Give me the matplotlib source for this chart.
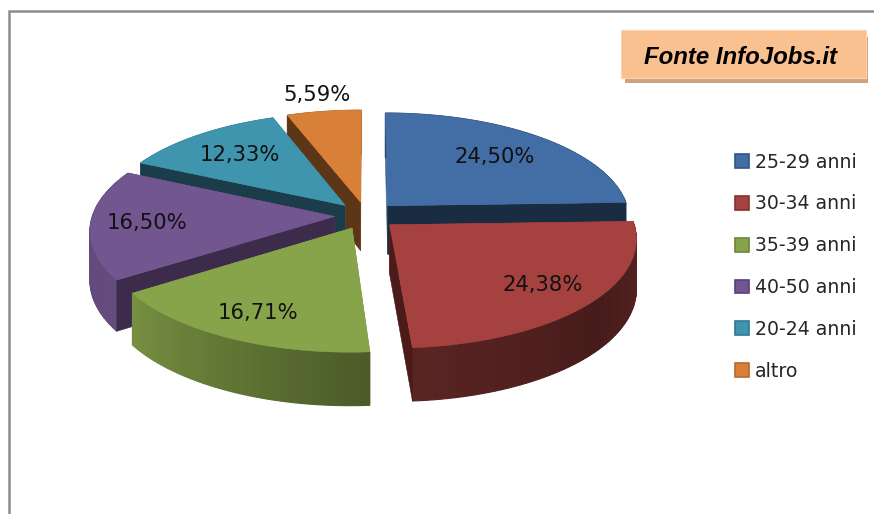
import numpy as np
import matplotlib
matplotlib.use("Agg")
import matplotlib.pyplot as plt
from matplotlib.patches import Patch, Rectangle

categories = ["25-29 anni", "30-34 anni", "35-39 anni", "40-50 anni", "20-24 anni", "altro"]
values = [24.50, 24.38, 16.71, 16.50, 12.33, 5.59]
labels = ["24,50%", "24,38%", "16,71%", "16,50%", "12,33%", "5,59%"]
colors = ["#426ea5", "#a5423f", "#87a44a", "#71568f", "#3f95ae", "#d88038"]
cut_colors = ["#1a2c42", "#4a1b19", "#4a5a25", "#3c2b4a", "#1a3d49", "#5c3616"]
edge_colors = ["#2f5587", "#8a2f2c", "#6c8638", "#59407a", "#2b7a92", "#b8682a"]
label_radius = [0.69, 0.78, 0.79, 0.77, 0.70, 1.21]

# pie geometry, in pixels of the figure
cx, cy = 366, 215.5
rx, ry = 242, 106
persp = 0.12
explode = 0.13


def project(u, v, down=False):
    scale = 1 / (1 + persp * v)
    x = cx + rx * u * scale
    y = cy - ry * v * scale
    if down:
        y = y + 49 - 4 * v
    return x, y


def blend(col, f):
    rgb = np.array(matplotlib.colors.to_rgb(col))
    return tuple(rgb * f)


def rim_shade(deg):
    return np.interp(deg, [0, 90, 130, 176, 236, 300, 360],
                     [0.6, 0.55, 0.42, 0.55, 0.88, 0.85, 0.8])


fig = plt.figure(figsize=(8.74, 5.14), dpi=100)
ax = fig.add_axes([0, 0, 1, 1])
ax.set_xlim(0, 874)
ax.set_ylim(514, 0)
ax.axis("off")

# grey frame, cut by the image on the right and at the bottom
ax.plot([9, 9, 874], [514, 11, 11], color="#8c8c8c", lw=1.8, solid_joinstyle="miter")

pct = np.array(values) / sum(values)
ends = np.cumsum(pct) * 360
starts = ends - pct * 360

order = [0, 5, 4, 3, 2, 1]
for i in order:
    a0, a1 = starts[i], ends[i]
    mid = np.radians((a0 + a1) / 2)
    ou, ov = explode * np.sin(mid), explode * np.cos(mid)
    th = np.linspace(a0, a1, 60)
    u = ou + np.sin(np.radians(th))
    v = ov + np.cos(np.radians(th))
    x0, y0 = project(ou, ov)
    x3, y3 = project(ou, ov, down=True)

    # the two cut faces, split in the ones facing away and the ones facing us
    cuts = [(0, a0 - 90), (-1, a1 + 90)]
    back = [c[0] for c in cuts if np.cos(np.radians(c[1])) > -0.01]
    front = [c[0] for c in cuts if np.cos(np.radians(c[1])) <= -0.01]

    for k in back:
        x1, y1 = project(u[k], v[k])
        x2, y2 = project(u[k], v[k], down=True)
        ax.fill([x0, x1, x2, x3], [y0, y1, y2, y3], color=blend(colors[i], 0.9), lw=0.4)

    # outer side, shaded in small strips
    for j in range(len(th) - 1):
        xa, ya = project(u[j:j + 2], v[j:j + 2])
        xb, yb = project(u[j:j + 2], v[j:j + 2], down=True)
        ax.fill(np.r_[xa, xb[::-1]], np.r_[ya, yb[::-1]],
                color=blend(colors[i], rim_shade((th[j] + th[j + 1]) / 2)), lw=0.8)

    for k in front:
        x1, y1 = project(u[k], v[k])
        x2, y2 = project(u[k], v[k], down=True)
        ax.fill([x0, x1, x2, x3], [y0, y1, y2, y3], color=cut_colors[i], lw=0.4)

    # top
    xt, yt = project(u, v)
    ax.fill(np.r_[x0, xt], np.r_[y0, yt], color=colors[i], lw=0.4)

    lu = ou + label_radius[i] * np.sin(mid)
    lv = ov + label_radius[i] * np.cos(mid)
    lx, ly = project(lu, lv)
    ax.text(lx, ly, labels[i], fontsize=15.2, ha="center", va="center",
            color="#111111", zorder=5)

handles = [Patch(facecolor=c, edgecolor=e, lw=1.2) for c, e in zip(colors, edge_colors)]
ax.legend(handles, categories, loc="upper left", bbox_to_anchor=(718, 135.5),
          bbox_transform=ax.transData, frameon=False, fontsize=13.6,
          labelspacing=1.21, handlelength=0.75, handleheight=0.75,
          handletextpad=0.3, labelcolor="#262626")

# source box
ax.add_patch(Rectangle((625, 37), 243, 46, facecolor="#cfa382", edgecolor="none"))
ax.add_patch(Rectangle((621, 30), 245, 48, facecolor="#f9c090", edgecolor="#fbd4b0", lw=0.8))
ax.text(741, 57, "Fonte InfoJobs.it", family="Liberation Sans", weight="bold",
        style="italic", fontsize=17.3, ha="center", va="center", color="black")

fig.savefig("out.png", dpi=100)
